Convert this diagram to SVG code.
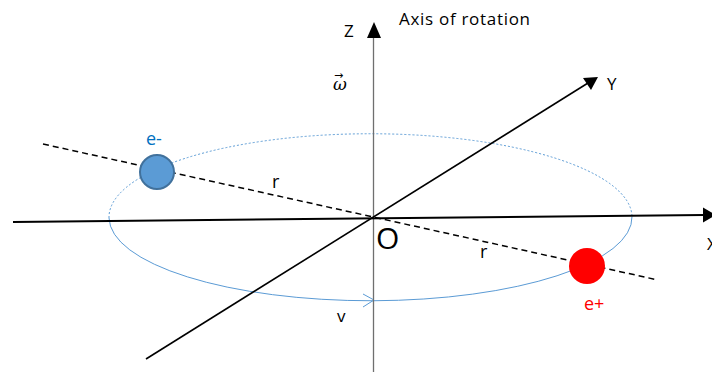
<svg xmlns="http://www.w3.org/2000/svg" width="712" height="372" viewBox="0 0 712 372">
<defs>
<style>
.lbl{font-family:"Open Sans","Liberation Sans",sans-serif;fill:#000}
.axis{stroke:#000;fill:none}
.orbit{stroke:#5B9BD5;fill:none;stroke-width:1}
</style>
</defs>
<rect width="712" height="372" fill="#fff"/>
<g id="connectors">
<path class="orbit" d="M109,218 A261.5,83.5 0 0 1 632,216.5" stroke-dasharray="2,2"/>
<path class="orbit" d="M109,218 A261.5,83.5 0 0 0 632,216.5"/>
<polyline class="orbit" points="363,294 374,300 363,307"/>
<line x1="373.5" y1="372" x2="373.5" y2="36" stroke="#6f6f6f" stroke-width="1.3"/>
<polygon points="374,22 367,38 381,38" fill="#000"/>
<line class="axis" x1="146" y1="359" x2="588" y2="83" stroke-width="1.6"/>
<polygon points="598,77 583,78 591,90" fill="#000"/>
<line class="axis" x1="13" y1="222" x2="704" y2="215" stroke-width="2"/>
<polygon points="716,215 703,207.5 703,222.5" fill="#000"/>
<line class="axis" x1="43" y1="144" x2="658" y2="280" stroke-width="1.5" stroke-dasharray="6,4"/>
</g>
<g id="e-minus">
<circle cx="157" cy="172" r="17" fill="#5B9BD5" stroke="#41719C" stroke-width="2"/>
<text x="146" y="145" font-family="Open Sans,Liberation Sans,sans-serif" font-size="18" fill="#0070C0">e-</text>
</g>
<g id="e-plus">
<circle cx="587" cy="266" r="18" fill="#FF0000"/>
<text x="584" y="310" font-family="Open Sans,Liberation Sans,sans-serif" font-size="18" fill="#FF0000">e+</text>
</g>
<g id="labels">
<text class="lbl" x="399" y="25" font-size="17" textLength="131">Axis of rotation</text>
<text class="lbl" x="344" y="37" font-size="17">Z</text>
<text class="lbl" x="607" y="90" font-size="17">Y</text>
<text class="lbl" x="707" y="250" font-size="17">X</text>
<text x="333" y="90" font-family="DejaVu Serif,serif" font-size="17" fill="#000"><tspan font-style="italic">ω</tspan><tspan x="334" y="79" font-family="DejaVu Sans,sans-serif" font-size="11">→</tspan></text>
<text class="lbl" x="272" y="188" font-size="18">r</text>
<text class="lbl" x="480" y="258" font-size="18">r</text>
<text class="lbl" x="376" y="249" font-size="30">O</text>
<text class="lbl" x="337" y="322" font-size="17">v</text>
</g>
</svg>
